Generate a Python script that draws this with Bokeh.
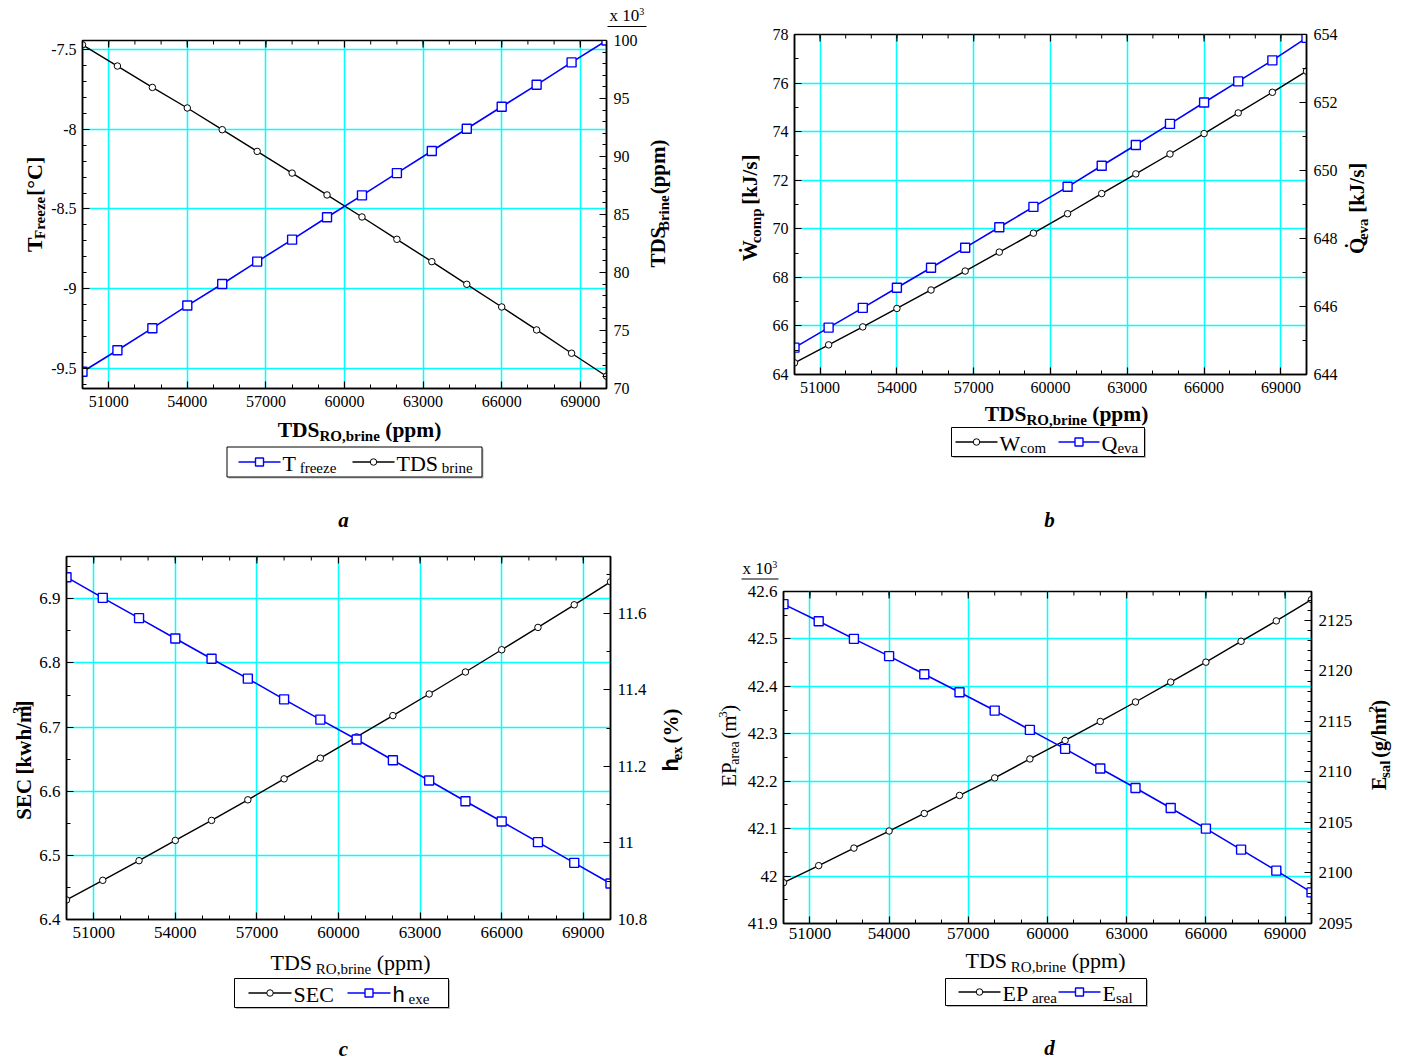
import math
from bokeh.plotting import figure
from bokeh.models import Range1d, LinearAxis, FixedTicker, CustomJSTickFormatter
from bokeh.core.properties import value
from bokeh.layouts import column, row
from bokeh.embed import file_html
from bokeh.resources import INLINE

# ---------------- data ----------------
tds_ro = [50000, 51333, 52667, 54000, 55333, 56667, 58000, 59333,
          60667, 62000, 63333, 64667, 66000, 67333, 68667, 70000]

# panel a : black circles (left axis, degC) / blue squares (right axis, x10^3 ppm)
a_left_black = [-7.471, -7.604, -7.738, -7.867, -8.003, -8.139, -8.275, -8.412,
                -8.550, -8.690, -8.830, -8.972, -9.114, -9.258, -9.404, -9.548]
a_right_blue = [71.44, 73.30, 75.20, 77.15, 79.01, 80.94, 82.83, 84.76,
                86.65, 88.57, 90.47, 92.39, 94.29, 96.18, 98.11, 100.0]

# panel b : W_com (left, kJ/s) / Q_eva (right, kJ/s)
b_wcom = [64.48, 65.22, 65.96, 66.72, 67.48, 68.26, 69.04, 69.82,
          70.62, 71.45, 72.26, 73.08, 73.92, 74.77, 75.62, 76.49]
b_qeva = [644.79, 645.38, 645.96, 646.55, 647.14, 647.73, 648.33, 648.93,
          649.52, 650.14, 650.75, 651.37, 652.00, 652.62, 653.24, 653.90]

# panel c : SEC (left, kWh/m3) / h_ex (right, %)
c_sec = [6.4305, 6.4611, 6.4917, 6.5233, 6.5545, 6.5866, 6.6193, 6.6515,
         6.6847, 6.7179, 6.7516, 6.7859, 6.8206, 6.8554, 6.8907, 6.9265]
c_hex = [11.694, 11.640, 11.587, 11.534, 11.481, 11.429, 11.375, 11.322,
         11.270, 11.216, 11.163, 11.109, 11.056, 11.002, 10.948, 10.894]

# panel d : EP_area (left, x10^3 m3) / E_sal (right, g/hm2)
d_ep = [41.986, 42.022, 42.059, 42.095, 42.132, 42.170, 42.207, 42.247,
        42.286, 42.326, 42.367, 42.409, 42.451, 42.495, 42.538, 42.583]
d_esal = [2126.62, 2124.93, 2123.18, 2121.47, 2119.68, 2117.90, 2116.08, 2114.17,
          2112.29, 2110.34, 2108.42, 2106.44, 2104.39, 2102.31, 2100.23, 2098.08]

x_ticks = [51000, 54000, 57000, 60000, 63000, 66000, 69000]
x_minor = [50000 + 1000 * i for i in range(21)]

a_left_ticks = [-9.5, -9.0, -8.5, -8.0, -7.5]
a_right_ticks = [70, 75, 80, 85, 90, 95, 100]
b_left_ticks = [64, 66, 68, 70, 72, 74, 76, 78]
b_right_ticks = [644, 646, 648, 650, 652, 654]
c_left_ticks = [6.4, 6.5, 6.6, 6.7, 6.8, 6.9]
c_right_ticks = [10.8, 11.0, 11.2, 11.4, 11.6]
d_left_ticks = [41.9, 42.0, 42.1, 42.2, 42.3, 42.4, 42.5, 42.6]
d_right_ticks = [2095, 2100, 2105, 2110, 2115, 2120, 2125]

FONT = "Liberation Serif"
SANS = "Liberation Sans"
CYAN = "#00FFFF"
BLUE = "#0000FF"
BASE_FIX = 0.33   # measured offset of the rendered baseline, in em

# ---------------- text width tables (per 1000 em) ----------------
REG = {' ': 250, '(': 333, ')': 333, ',': 250, '.': 250, '/': 278, '[': 333, ']': 333,
       '%': 833, '°': 400, 'A': 722, 'B': 667, 'C': 667, 'D': 722, 'E': 611, 'F': 556,
       'O': 722, 'P': 556, 'Q': 722, 'R': 667, 'S': 556, 'T': 611, 'W': 944,
       'a': 444, 'b': 500, 'c': 444, 'e': 444, 'f': 333, 'g': 500, 'h': 500, 'i': 278,
       'k': 500, 'l': 278, 'm': 778, 'n': 500, 'o': 500, 'p': 500, 'r': 333, 's': 389,
       'v': 500, 'w': 722, 'x': 500, 'z': 444, '\u0307': 0}
BOLD = {' ': 250, '(': 333, ')': 333, ',': 250, '.': 250, '/': 278, '[': 333, ']': 333,
        '%': 1000, '°': 400, 'B': 667, 'C': 722, 'D': 722, 'E': 667, 'F': 611, 'J': 500,
        'O': 778, 'P': 611, 'Q': 778, 'R': 722, 'S': 556, 'T': 667, 'W': 1000, 'Ẇ': 1000,
        'a': 500, 'b': 556, 'c': 444, 'e': 444, 'g': 500, 'h': 556, 'i': 278, 'k': 556,
        'l': 278, 'm': 833, 'n': 556, 'o': 500, 'p': 556, 'r': 444, 's': 389, 'v': 500,
        'w': 722, 'x': 500, 'z': 444, '\u0307': 0}
SANSR = {'h': 556, ' ': 278}


def tw(text, size, bold=False, sans=False):
    table = SANSR if sans else (BOLD if bold else REG)
    return sum(table.get(ch, 500) for ch in text) * size / 1000.0


# ---------------- text / decoration strips (page-pixel coordinates) ----------------
def strip(x0, x1, y0, y1):
    p = figure(width=x1 - x0, height=y1 - y0, x_range=Range1d(x0, x1), y_range=Range1d(-y1, -y0),
               x_axis_type=None, y_axis_type=None, output_backend="svg", toolbar_location=None,
               min_border_left=0, min_border_right=0, min_border_top=0, min_border_bottom=0)
    p.outline_line_color = None
    p.background_fill_color = "white"
    p.border_fill_color = "white"
    return p


def rich(p, x, y, pieces, rotate=False, anchor="center"):
    """pieces: (text, size, bold, dy, sans); x, y = page coords of the baseline anchor."""
    ws = [tw(t, s, b, sa) for (t, s, b, dy, sa) in pieces]
    total = sum(ws)
    off = {"left": 0.0, "center": -total / 2.0, "right": -total}[anchor]
    for (t, s, b, dy, sa), w in zip(pieces, ws):
        lead = len(t) - len(t.lstrip(" "))
        o = off + tw(" " * lead, s, b, sa)
        fix = BASE_FIX * s
        if rotate:
            X, Y, ang = x + dy - fix, y - o, math.pi / 2
        else:
            X, Y, ang = x + o, y + dy - fix, 0.0
        p.text(x=[X], y=[-Y], text=[t.strip()], angle=ang,
               text_font=value(SANS if sa else FONT), text_font_size=value(f"{s}px"),
               text_font_style=value("bold" if b else "normal"), text_color="black",
               text_align=value("left"), text_baseline=value("alphabetic"))
        off += w


def caption(p, x, y, letter):
    p.text(x=[x], y=[-(y - BASE_FIX * 21)], text=[letter], text_font=value(FONT),
           text_font_size=value("21px"), text_font_style=value("bold italic"), text_color="black",
           text_align=value("center"), text_baseline=value("alphabetic"))


def hline(p, x1, x2, y, color="black", lw=1.2):
    p.line([x1, x2], [-y, -y], line_color=color, line_width=lw)


def leg_entry(p, x1, x2, y, color, marker):
    hline(p, x1, x2, y, color, 1.6)
    if marker == "square":
        p.scatter([(x1 + x2) / 2.0], [-y], marker="square", size=8, fill_color="white",
                  line_color=color, line_width=1.4)
    else:
        p.scatter([(x1 + x2) / 2.0], [-y], marker="circle", size=6.5, fill_color="white",
                  line_color=color, line_width=1.0)


def legend_box(p, x0, y0, x1, y1):
    p.quad(left=[x0 + 1.5], right=[x1 + 1.5], top=[-(y0 + 1.5)], bottom=[-(y1 + 1.5)],
           fill_color="#b8b8b8", line_color=None)
    p.quad(left=[x0], right=[x1], top=[-y0], bottom=[-y1], fill_color="white",
           line_color="black", line_width=1)


# ---------------- plot figures ----------------
FMT = "return Number(tick.toFixed(4)).toString()"


def style_axis(ax, ticks, minor, size, standoff):
    ax.ticker = FixedTicker(ticks=ticks, minor_ticks=minor)
    ax.formatter = CustomJSTickFormatter(code=FMT)
    ax.major_tick_in = 7
    ax.major_tick_out = 0
    ax.minor_tick_in = 4
    ax.minor_tick_out = 0
    ax.major_tick_line_color = "black"
    ax.minor_tick_line_color = "black"
    ax.major_tick_line_width = 1.2
    ax.axis_line_color = "black"
    ax.axis_line_width = 1.5
    ax.major_label_text_font = FONT
    ax.major_label_text_font_size = f"{size}px"
    ax.major_label_text_color = "black"
    ax.major_label_standoff = standoff


def steps(a, b, s):
    n = int(round((b - a) / s))
    return [round(a + s * i, 6) for i in range(n + 1)]


def make_main(canvas, frame, yl, yr, lt, lminor, rt, rminor, left_y, right_y, tsize, xstand):
    cx0, cx1, cy0, cy1 = canvas
    L, R, T, B = frame
    p = figure(width=cx1 - cx0, height=cy1 - cy0, x_range=Range1d(50000, 70000),
               y_range=Range1d(*yl), output_backend="svg", toolbar_location=None,
               min_border_left=L - cx0, min_border_right=cx1 - R,
               min_border_top=T - cy0, min_border_bottom=cy1 - B)
    p.extra_y_ranges = {"r": Range1d(*yr)}
    p.background_fill_color = "white"
    p.border_fill_color = "white"
    p.outline_line_color = "black"
    p.outline_line_width = 1.5

    style_axis(p.xaxis[0], x_ticks, x_minor, tsize, xstand)
    style_axis(p.yaxis[0], lt, lminor, tsize, 6)
    ra = LinearAxis(y_range_name="r")
    style_axis(ra, rt, rminor, tsize, 7)
    p.add_layout(ra, "right")

    p.xgrid.ticker = FixedTicker(ticks=x_ticks)
    p.ygrid.ticker = FixedTicker(ticks=lt)
    for g in (p.xgrid[0], p.ygrid[0]):
        g.grid_line_color = CYAN
        g.grid_line_width = 1.5
        g.grid_line_alpha = 1.0

    # tick marks along the top edge of the frame
    k = (yl[1] - yl[0]) / float(B - T)
    p.segment(x0=x_minor, x1=x_minor, y0=[yl[1]] * len(x_minor),
              y1=[yl[1] - 4 * k] * len(x_minor), line_color="black", line_width=1)
    p.segment(x0=x_ticks, x1=x_ticks, y0=[yl[1]] * len(x_ticks),
              y1=[yl[1] - 7 * k] * len(x_ticks), line_color="black", line_width=1.2)

    p.line(tds_ro, left_y, line_color="black", line_width=1.4)
    p.scatter(tds_ro, left_y, marker="circle", size=6.5, fill_color="white",
              line_color="black", line_width=1.0)
    p.line(tds_ro, right_y, line_color=BLUE, line_width=1.6, y_range_name="r")
    p.scatter(tds_ro, right_y, marker="square", size=9, fill_color="white",
              line_color=BLUE, line_width=1.4, y_range_name="r")
    return p


# ================= panel a =================
ma = make_main((48, 644, 27, 416), (80, 606, 40, 388), (-9.625, -7.444), (70, 100),
               a_left_ticks, steps(-9.6, -7.5, 0.1), a_right_ticks, steps(70, 100, 1),
               a_left_black, a_right_blue, 16, 7)
ta = strip(0, 700, 0, 27)
rich(ta, 609, 21, [("x 10", 17, False, 0, False), ("3", 10, False, -6.5, False)], anchor="left")
hline(ta, 607, 646, 26)
la = strip(0, 48, 27, 416)
rich(la, 41.5, 212.5, [("T", 22, True, 0, False), ("Freeze", 15, True, 3, False),
                       (" [°C]", 22, True, 0, False)], rotate=True)
ra_ = strip(644, 700, 27, 416)
rich(ra_, 664, 212.5, [("TDS", 21, True, 0, False), ("Brine", 15, True, 4, False),
                       (" (ppm)", 21, True, 0, False)], rotate=True)
ba = strip(0, 700, 416, 535)
rich(ba, 359, 436.5, [("TDS", 21.5, True, 0, False), ("RO,brine", 15, True, 4, False),
                      (" (ppm)", 21.5, True, 0, False)])
legend_box(ba, 226.5, 446.5, 481.5, 476.5)
leg_entry(ba, 238, 280, 461.5, BLUE, "square")
rich(ba, 282, 470, [("T", 22, False, 0, False), (" freeze", 15, False, 2, False)], anchor="left")
leg_entry(ba, 352, 394, 461.5, "black", "circle")
rich(ba, 396, 470, [("TDS", 22, False, 0, False), (" brine", 15, False, 2, False)], anchor="left")
caption(ba, 343, 526, "a")
panel_a = column(ta, row(la, ma, ra_), ba)

# ================= panel b =================
mb = make_main((767, 1341, 0, 401), (794, 1306, 34, 374), (64, 78), (644, 654),
               b_left_ticks, steps(64, 78, 1), b_right_ticks, steps(644, 654, 1),
               b_wcom, b_qeva, 16, 7)
lb = strip(700, 767, 0, 401)
rich(lb, 756, 209, [("Ẇ", 21, True, 0, False), ("comp", 15, True, 4, False),
                    ("  [kJ/s]", 21, True, 0, False)], rotate=True)
rb = strip(1341, 1400, 0, 401)
rich(rb, 1363, 209.5, [("Q\u0307", 21, True, 0, False), ("eva", 15, True, 4, False),
                       ("  [kJ/s]", 21, True, 0, False)], rotate=True)
bb = strip(700, 1400, 401, 535)
rich(bb, 1066, 420.5, [("TDS", 21.5, True, 0, False), ("RO,brine", 15, True, 4, False),
                       (" (ppm)", 21.5, True, 0, False)])
legend_box(bb, 951, 427, 1144, 456)
leg_entry(bb, 955, 997, 441.5, "black", "circle")
rich(bb, 999, 450, [("W", 22, False, 0, False), ("com", 15, False, 2.5, False)], anchor="left")
leg_entry(bb, 1058, 1099, 441.5, BLUE, "square")
rich(bb, 1101, 450, [("Q", 22, False, 0, False), ("eva", 15, False, 2.5, False)], anchor="left")
caption(bb, 1049, 526, "b")
panel_b = column(row(lb, mb, rb), bb)

# ================= panel c =================
mc = make_main((36, 652, 535, 946), (66, 610, 556, 919), (6.4, 6.966), (10.8, 11.748),
               c_left_ticks, steps(6.4, 6.95, 0.05), c_right_ticks, steps(10.8, 11.7, 0.1),
               c_sec, c_hex, 17, 7)
lc = strip(0, 36, 535, 946)
rich(lc, 30.5, 766, [("SEC", 21, True, 0, False), ("  [kwh/m", 21, True, 0, False),
                     ("3", 14, True, -8, False), ("]", 21, True, 0, False)], rotate=True)
rc = strip(652, 700, 535, 946)
rich(rc, 677, 745, [("h", 22, True, 0, True), ("ex", 15, True, 4, False),
                    (" (%)", 21, True, 0, False)], rotate=True)
bc = strip(0, 700, 946, 1061)
rich(bc, 350, 969.5, [("TDS", 22, False, 0, False), (" RO,brine", 15, False, 4, False),
                      (" (ppm)", 22, False, 0, False)])
legend_box(bc, 234, 978, 448, 1007)
leg_entry(bc, 248, 291, 992.5, "black", "circle")
rich(bc, 293, 1001, [("SEC", 22, False, 0, False)], anchor="left")
leg_entry(bc, 347, 390, 992.5, BLUE, "square")
rich(bc, 392, 1001, [("h", 22, False, 0, True), (" exe", 15, False, 2.5, False)], anchor="left")
caption(bc, 343, 1055, "c")
panel_c = column(row(lc, mc, rc), bc)

# ================= panel d =================
md = make_main((744, 1358, 580, 947), (783, 1311, 591, 923), (41.9, 42.6), (2095, 2127.87),
               d_left_ticks, steps(41.9, 42.6, 0.05), d_right_ticks, steps(2095, 2127, 1),
               d_ep, d_esal, 17, 4)
td = strip(700, 1400, 535, 580)
rich(td, 742, 574, [("x 10", 17, False, 0, False), ("3", 10, False, -6.5, False)], anchor="left")
hline(td, 741, 778, 578.5)
ld = strip(700, 744, 580, 947)
rich(ld, 735, 751, [("EP", 21, False, 0, False), ("area", 14, False, 4, False),
                    (" (m", 21, False, 0, False), ("3", 13, False, -8, False),
                    (")", 21, False, 0, False)], rotate=True)
rd = strip(1358, 1400, 580, 947)
rich(rd, 1385, 750, [("E", 20, True, 0, False), ("sal", 15, True, 4, False),
                     (" (g/hm", 20, True, 0, False), ("2", 13, True, -8, False),
                     (")", 20, True, 0, False)], rotate=True)
bd = strip(700, 1400, 947, 1061)
rich(bd, 1045, 967.5, [("TDS", 22, False, 0, False), (" RO,brine", 15, False, 4, False),
                       (" (ppm)", 22, False, 0, False)])
legend_box(bd, 945, 978, 1146, 1005)
leg_entry(bd, 958, 1000, 991.5, "black", "circle")
rich(bd, 1002, 1000, [("EP", 22, False, 0, False), (" area", 15, False, 2.5, False)], anchor="left")
leg_entry(bd, 1058, 1100, 991.5, BLUE, "square")
rich(bd, 1102, 1000, [("E", 22, False, 0, False), ("sal", 15, False, 2.5, False)], anchor="left")
caption(bd, 1049, 1054, "d")
panel_d = column(td, row(ld, md, rd), bd)

layout = column(row(panel_a, panel_b), row(panel_c, panel_d))
open("out.html", "w").write(file_html(layout, INLINE))
